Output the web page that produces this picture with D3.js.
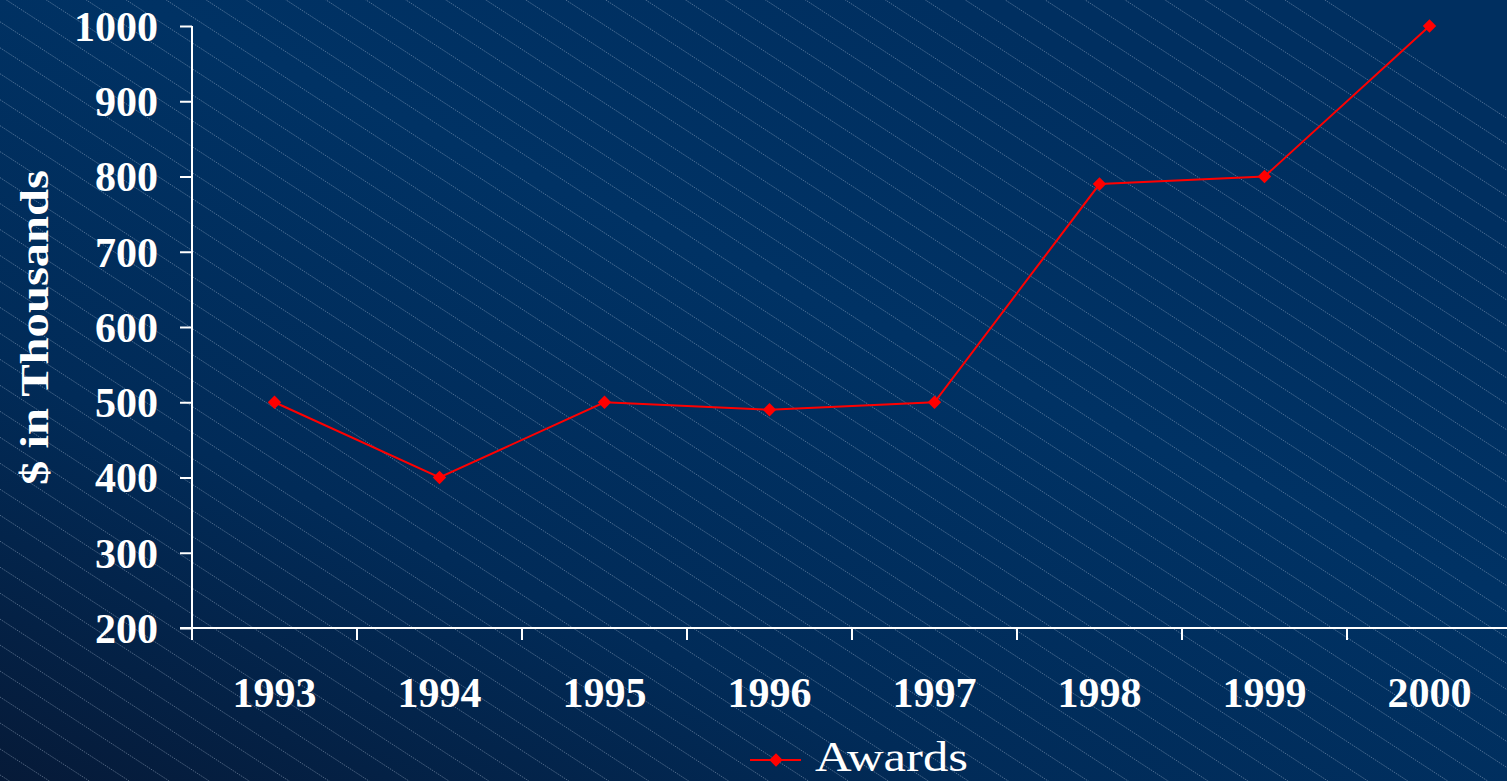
<!DOCTYPE html>
<html>
<head>
<meta charset="utf-8">
<script src="https://cdn.jsdelivr.net/npm/d3@7"></script>
<style>
  html, body { margin: 0; padding: 0; background: #002f60; overflow: hidden; }
  svg { display: block; }
</style>
</head>
<body>
<svg id="chart" width="1507" height="781"></svg>
<script>
const years = ["1993", "1994", "1995", "1996", "1997", "1998", "1999", "2000"];
const awards = [500, 400, 500, 490, 500, 790, 800, 1000];
const yTicks = [200, 300, 400, 500, 600, 700, 800, 900, 1000];
const seriesName = "Awards";
const yTitle = "$ in Thousands";

const W = 1507, H = 781;
const svg = d3.select("#chart");
const defs = svg.append("defs");

// background gradient
const grad = defs.append("linearGradient").attr("id", "bg")
  .attr("x1", "0").attr("y1", "1").attr("x2", "0.75").attr("y2", "0.1");
grad.append("stop").attr("offset", "0%").attr("stop-color", "#061a38");
grad.append("stop").attr("offset", "35%").attr("stop-color", "#012b58");
grad.append("stop").attr("offset", "70%").attr("stop-color", "#003264");
grad.append("stop").attr("offset", "100%").attr("stop-color", "#002f60");
svg.append("rect").attr("width", W).attr("height", H).attr("fill", "url(#bg)");

// diagonal hatching
const slope = 0.65, spacing = 25.97, b0 = 697;
const hatch = svg.append("g").attr("stroke", "rgba(190,205,225,0.4)").attr("stroke-width", 1)
  .attr("stroke-dasharray", "1.5,1");
for (let k = -60; k < 40; k++) {
  const b = b0 + k * spacing;
  hatch.append("line").attr("x1", 0).attr("y1", b).attr("x2", W).attr("y2", b + slope * W);
}

const x = d3.scaleBand().domain(years).range([192, 192 + 8 * 165]).padding(0);
const y = d3.scaleLinear().domain([200, 1000]).range([628, 26]);

const font = "'Liberation Serif', 'Times New Roman', serif";

// y axis
const yAxis = svg.append("g").attr("transform", "translate(192,0)")
  .call(d3.axisLeft(y).tickValues(yTicks).tickSize(12).tickPadding(22).tickFormat(d3.format("d")));
yAxis.select(".domain").attr("stroke", "#fff").attr("stroke-width", 2).attr("d", `M0,${y(1000)}V${y(200)}`);
yAxis.selectAll(".tick line").attr("stroke", "#fff").attr("stroke-width", 2);
yAxis.selectAll(".tick text").attr("fill", "#fff").attr("font-family", font)
  .attr("font-weight", "bold").attr("font-size", 42).attr("dy", "0.34em");

// x axis
const xg = svg.append("g").attr("transform", `translate(0,${y(200)})`);
xg.append("line").attr("x1", 180).attr("x2", W + 10).attr("y1", 0).attr("y2", 0)
  .attr("stroke", "#fff").attr("stroke-width", 2);
const bounds = years.map(d => x(d)).concat([x(years[years.length - 1]) + x.bandwidth()]);
xg.selectAll("line.tk").data(bounds).join("line").attr("class", "tk")
  .attr("x1", d => d).attr("x2", d => d).attr("y1", 0).attr("y2", 12)
  .attr("stroke", "#fff").attr("stroke-width", 2);
xg.selectAll("text").data(years).join("text")
  .attr("x", d => x(d) + x.bandwidth() / 2).attr("y", 79)
  .attr("text-anchor", "middle").attr("fill", "#fff").attr("font-family", font)
  .attr("font-weight", "bold").attr("font-size", 42).text(d => d);

// y title
svg.append("text").attr("transform", "translate(48,327.5) rotate(-90)")
  .attr("text-anchor", "middle").attr("fill", "#fff").attr("font-family", font)
  .attr("font-weight", "bold").attr("font-size", 40)
  .attr("textLength", 315).attr("lengthAdjust", "spacingAndGlyphs").text(yTitle);

// series
const cx = d => x(d) + x.bandwidth() / 2;
const data = years.map((d, i) => ({ year: d, value: awards[i] }));
svg.append("path").datum(data)
  .attr("fill", "none").attr("stroke", "#ff0000").attr("stroke-width", 2)
  .attr("d", d3.line().x(d => cx(d.year)).y(d => y(d.value)));
const diamond = d3.symbol().type(d3.symbolSquare).size(90);
svg.selectAll("path.mk").data(data).join("path").attr("class", "mk")
  .attr("d", diamond).attr("fill", "#ff0000")
  .attr("transform", d => `translate(${cx(d.year)},${y(d.value)}) rotate(45)`);

// legend
const lg = svg.append("g");
lg.append("line").attr("x1", 750).attr("x2", 801).attr("y1", 760).attr("y2", 760)
  .attr("stroke", "#ff0000").attr("stroke-width", 2);
lg.append("path").attr("d", diamond).attr("fill", "#ff0000")
  .attr("transform", "translate(776,760) rotate(45)");
lg.append("text").attr("x", 815).attr("y", 771).attr("fill", "#fff").attr("font-family", font)
  .attr("font-size", 42).attr("textLength", 153).attr("lengthAdjust", "spacingAndGlyphs").text(seriesName);
</script>
</body>
</html>
